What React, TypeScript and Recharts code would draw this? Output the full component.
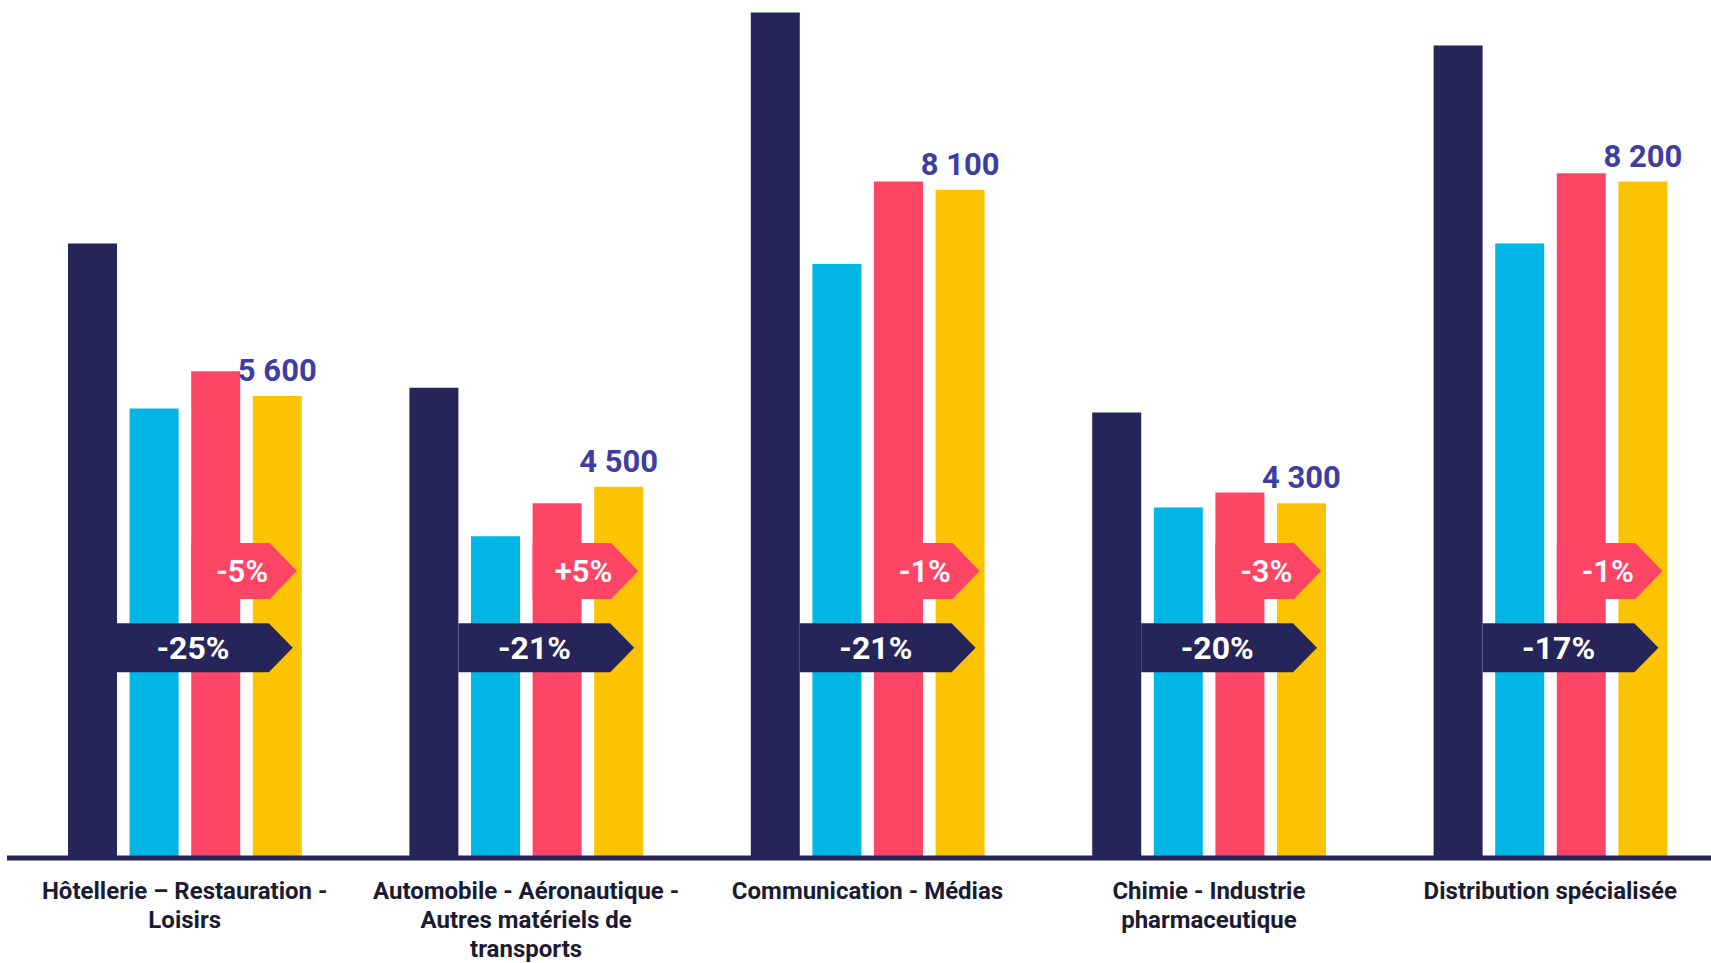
import { BarChart, Bar, XAxis, YAxis, LabelList } from 'recharts';

// Couleurs de la charte
const NAVY = '#25255a';
const CYAN = '#00b6e4';
const ROUGE = '#ff4566';
const JAUNE = '#fcc300';
const VIOLET = '#3e3ea0';
const TEXTE = '#1b1b33';
const FONT = 'Roboto, "Open Sans", sans-serif';

const CATEGORIES = [
  'Hôtellerie – Restauration -\nLoisirs',
  'Automobile - Aéronautique -\nAutres matériels de\ntransports',
  'Communication - Médias',
  'Chimie - Industrie\npharmaceutique',
  'Distribution spécialisée',
];
const SERIE_1 = [7450, 5700, 10250, 5400, 9850];
const SERIE_2 = [5450, 3900, 7200, 4250, 7450];
const SERIE_3 = [5900, 4300, 8200, 4430, 8300];
const SERIE_4 = [5600, 4500, 8100, 4300, 8200];
const VAR_GLOBALE = ['-25%', '-21%', '-21%', '-20%', '-17%'];
const VAR_ANNUELLE = ['-5%', '+5%', '-1%', '-3%', '-1%'];

// hauteur (en valeur) des flèches de variation
const NIVEAU_FLECHE_NAVY = 2550;
const NIVEAU_FLECHE_ROUGE = 3480;

const BAR = 49;
const GAP = 12.6;

const rows = CATEGORIES.map((c, i) => ({
  cat: c,
  s1: SERIE_1[i],
  s2: SERIE_2[i],
  s3: SERIE_3[i],
  s4: SERIE_4[i],
}));

const fmt = (v: number) => `${Math.floor(v / 1000)} ${String(v % 1000).padStart(3, '0')}`;

function fleche(x0: number, tip: number, cy: number, h: number, tri: number) {
  const xb = tip - tri;
  return `M${x0},${cy - h} L${xb},${cy - h} L${tip},${cy} L${xb},${cy + h} L${x0},${cy + h} Z`;
}

function Annotations(props: any) {
  const { x, y, width, height, value, index } = props;
  const bas = y + height;
  const k = height / value;
  const pas = BAR + GAP;
  const droiteJaune = x + width;
  // flèche navy : du bord droit de la 1re barre vers la fin de la 4e
  const x0n = x - 3 * pas + BAR;
  const tipN = droiteJaune - 9;
  const cyN = bas - NIVEAU_FLECHE_NAVY * k;
  // flèche rouge : depuis la 3e barre
  const x0r = x - pas;
  const tipR = droiteJaune - 5;
  const cyR = bas - NIVEAU_FLECHE_ROUGE * k;
  return (
    <g>
      <path d={fleche(x0r, tipR, cyR, 28, 27)} fill={ROUGE} />
      <text x={x - GAP + 2} y={cyR} dy="0.36em" textAnchor="middle" fill="#fff" fontSize={31} fontWeight={600} fontFamily={FONT}>
        {VAR_ANNUELLE[index]}
      </text>
      <path d={fleche(x0n, tipN, cyN, 24.5, 24)} fill={NAVY} />
      <text x={x0n + 76} y={cyN} dy="0.36em" textAnchor="middle" fill="#fff" fontSize={32} fontWeight={700} fontFamily={FONT}>
        {VAR_GLOBALE[index]}
      </text>
      <text x={x + width / 2} y={y - 15} textAnchor="middle" fill={VIOLET} fontSize={31} fontWeight={700} fontFamily={FONT}>
        {fmt(value)}
      </text>
    </g>
  );
}

function Tick({ x, y, payload }: any) {
  const lignes = String(payload.value).split('\n');
  return (
    <text x={x} y={y + 41} textAnchor="middle" fill={TEXTE} fontSize={24} fontWeight={700} fontFamily={FONT}>
      {lignes.map((l, i) => (
        <tspan key={i} x={x} dy={i === 0 ? 0 : 29}>{l}</tspan>
      ))}
    </text>
  );
}

export default function App() {
  return (
    <div style={{ position: 'absolute', left: 0, top: 0, width: 1711, height: 963, overflow: 'hidden', background: '#fff' }}>
      <BarChart
        width={1721}
        height={963}
        data={rows}
        margin={{ top: 0, right: 0, left: 7, bottom: 0 }}
        barSize={BAR}
        barGap={GAP}
      >
        <XAxis
          dataKey="cat"
          height={105}
          padding={{ left: 7, right: 0 }}
          axisLine={{ stroke: NAVY, strokeWidth: 5 }}
          tickLine={false}
          tickSize={0}
          tickMargin={0}
          interval={0}
          tick={<Tick />}
        />
        <YAxis hide domain={[0, 10400]} />
        <Bar dataKey="s1" fill={NAVY} isAnimationActive={false} />
        <Bar dataKey="s2" fill={CYAN} isAnimationActive={false} />
        <Bar dataKey="s3" fill={ROUGE} isAnimationActive={false} />
        <Bar dataKey="s4" fill={JAUNE} isAnimationActive={false}>
          <LabelList dataKey="s4" content={<Annotations />} />
        </Bar>
      </BarChart>
    </div>
  );
}
